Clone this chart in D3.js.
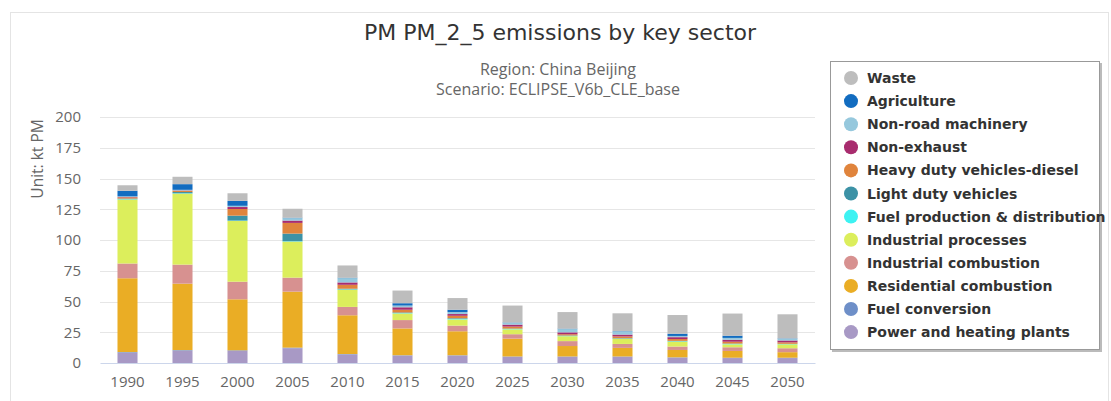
<!DOCTYPE html>
<html>
<head>
<meta charset="utf-8">
<script src="https://cdn.jsdelivr.net/npm/d3@7"></script>
<style>
  body { margin: 0; background: #fff; }
  svg { display: block; }
</style>
</head>
<body>
<div id="chart"></div>
<script>
// years on the x axis
const years = ["1990", "1995", "2000", "2005", "2010", "2015", "2020", "2025", "2030", "2035", "2040", "2045", "2050"];

// sector values, kt PM
const power       = [8.4, 10, 9.8, 12, 7, 6, 6, 5, 5, 5, 4.3, 4, 4];
const fuelConv    = [0.5, 0.5, 0.5, 0.5, 0.3, 0.3, 0.3, 0.3, 0.3, 0.3, 0.3, 0.3, 0.3];
const residential = [60, 54, 41.5, 45.5, 31.5, 21.8, 19.5, 14.5, 8.5, 7, 6, 5.5, 4.5];
const indComb     = [12, 15.5, 14.3, 11.4, 6.8, 6.8, 4.6, 3.6, 4, 3.2, 2.8, 3, 3.2];
const indProc     = [52, 57.7, 49.4, 29.3, 14, 5.4, 5, 4, 4, 4, 4, 2.4, 3.2];
const fuelProd    = [0.3, 0.3, 0.3, 0.3, 0.3, 0.3, 0.5, 0.3, 0.3, 0.3, 0.3, 0.3, 0.2];
const lightDuty   = [0.5, 1, 4, 6.2, 0.5, 0.5, 0.5, 0.3, 0.3, 0.3, 0.3, 0.3, 0.2];
const heavyDuty   = [1, 1, 5.4, 8.7, 3.2, 2.2, 2, 1.6, 1, 1.5, 1.5, 1.5, 1.2];
const nonExhaust  = [0.3, 0.3, 1.6, 1.9, 1.9, 2, 1.4, 1.6, 1.5, 1.5, 1.5, 1.6, 1.5];
const nonRoad     = [0.5, 0.5, 1, 2, 3.5, 1.4, 1.6, 1.4, 2.7, 2.5, 1, 1.5, 1.4];
const agriculture = [4.5, 4.6, 4, 0.3, 0.3, 1.9, 1.9, 0.3, 0.3, 0.3, 1.8, 1.8, 0.3];
const waste       = [4.5, 6, 6.2, 7.3, 10, 10.3, 9.5, 13.8, 13.5, 14.5, 15.2, 18, 19.6];

const yTicks = [0, 25, 50, 75, 100, 125, 150, 175, 200];

// legend order (top of stack first)
const sectors = [
  { name: "Waste", values: waste, color: "#bdbdbd" },
  { name: "Agriculture", values: agriculture, color: "#126cc0" },
  { name: "Non-road machinery", values: nonRoad, color: "#96c8dd" },
  { name: "Non-exhaust", values: nonExhaust, color: "#a82c6e" },
  { name: "Heavy duty vehicles-diesel", values: heavyDuty, color: "#e0843c" },
  { name: "Light duty vehicles", values: lightDuty, color: "#3c92a6" },
  { name: "Fuel production & distribution", values: fuelProd, color: "#3df2f2" },
  { name: "Industrial processes", values: indProc, color: "#dcee5c" },
  { name: "Industrial combustion", values: indComb, color: "#d79190" },
  { name: "Residential combustion", values: residential, color: "#eaad25" },
  { name: "Fuel conversion", values: fuelConv, color: "#6e8fc8" },
  { name: "Power and heating plants", values: power, color: "#a899c5" }
];

const W = 1111, H = 401;
const svg = d3.select("#chart").append("svg").attr("width", W).attr("height", H);

// outer frame
svg.append("rect").attr("x", 10.5).attr("y", 12.5).attr("width", 1098).attr("height", 400)
  .attr("fill", "none").attr("stroke", "#e4e4e4");

// table for the stack, bottom sector first
const stackOrder = sectors.slice().reverse();
const table = years.map((y, i) => {
  const row = { year: y };
  stackOrder.forEach(s => { row[s.name] = s.values[i]; });
  return row;
});
const series = d3.stack().keys(stackOrder.map(s => s.name))(table);

const x = d3.scaleBand().domain(years).range([100, 815]).paddingInner(0.636).paddingOuter(0.318);
const y = d3.scaleLinear().domain([0, 200]).range([363, 117]);

// grid
svg.append("g").selectAll("line").data(yTicks.slice(1)).join("line")
  .attr("x1", 100).attr("x2", 815)
  .attr("y1", d => Math.round(y(d)) + 0.5).attr("y2", d => Math.round(y(d)) + 0.5)
  .attr("stroke", "#e6e6e6");

// y axis labels
const yAxis = svg.append("g").attr("transform", "translate(81,0)")
  .call(d3.axisLeft(y).tickValues(yTicks).tickSize(0).tickPadding(0));
yAxis.select(".domain").remove();
yAxis.selectAll("text").attr("font-family", "Open Sans, sans-serif").attr("font-size", 15).attr("fill", "#666");

// bars
const colorOf = {};
sectors.forEach(s => { colorOf[s.name] = s.color; });
svg.append("g").selectAll("g").data(series).join("g")
  .attr("fill", d => colorOf[d.key])
  .selectAll("rect").data(d => d).join("rect")
  .attr("x", d => x(d.data.year))
  .attr("width", x.bandwidth())
  .attr("y", d => y(d[1]))
  .attr("height", d => Math.max(0, y(d[0]) - y(d[1])));

// x axis
const xAxis = svg.append("g").attr("transform", "translate(0,363)")
  .call(d3.axisBottom(x).tickSize(0).tickPadding(13));
xAxis.select(".domain").attr("stroke", "#ccd6eb");
xAxis.selectAll("text").attr("font-family", "Open Sans, sans-serif").attr("font-size", 15).attr("fill", "#666");

// y axis title
svg.append("text").attr("transform", "translate(43,159) rotate(-90)")
  .attr("text-anchor", "middle").attr("font-family", "Open Sans, sans-serif")
  .attr("font-size", 15.5).attr("fill", "#666").text("Unit: kt PM");

// titles
svg.append("text").attr("x", 560).attr("y", 40).attr("text-anchor", "middle")
  .attr("font-family", "DejaVu Sans, sans-serif").attr("font-size", 22).attr("fill", "#333")
  .text("PM PM_2_5 emissions by key sector");
svg.append("text").attr("x", 558).attr("y", 75).attr("text-anchor", "middle")
  .attr("font-family", "Open Sans, sans-serif").attr("font-size", 16).attr("fill", "#666")
  .text("Region: China Beijing");
svg.append("text").attr("x", 558).attr("y", 95).attr("text-anchor", "middle")
  .attr("font-family", "Open Sans, sans-serif").attr("font-size", 16).attr("fill", "#666")
  .text("Scenario: ECLIPSE_V6b_CLE_base");

// legend
const lg = svg.append("g");
lg.append("rect").attr("x", 832).attr("y", 63).attr("width", 270).attr("height", 289).attr("fill", "#bbb");
lg.append("rect").attr("x", 830.5).attr("y", 61.5).attr("width", 269).attr("height", 288)
  .attr("fill", "#fff").attr("stroke", "#999");
const item = lg.selectAll("g.item").data(sectors).join("g").attr("class", "item")
  .attr("transform", (d, i) => `translate(0,${78 + i * 23.1})`);
item.append("circle").attr("cx", 851).attr("cy", 0).attr("r", 7).attr("fill", d => d.color);
item.append("text").attr("x", 867).attr("y", 5).attr("font-family", "DejaVu Sans, sans-serif")
  .attr("font-weight", "bold").attr("font-size", 14).attr("fill", "#333").text(d => d.name);
</script>
</body>
</html>
